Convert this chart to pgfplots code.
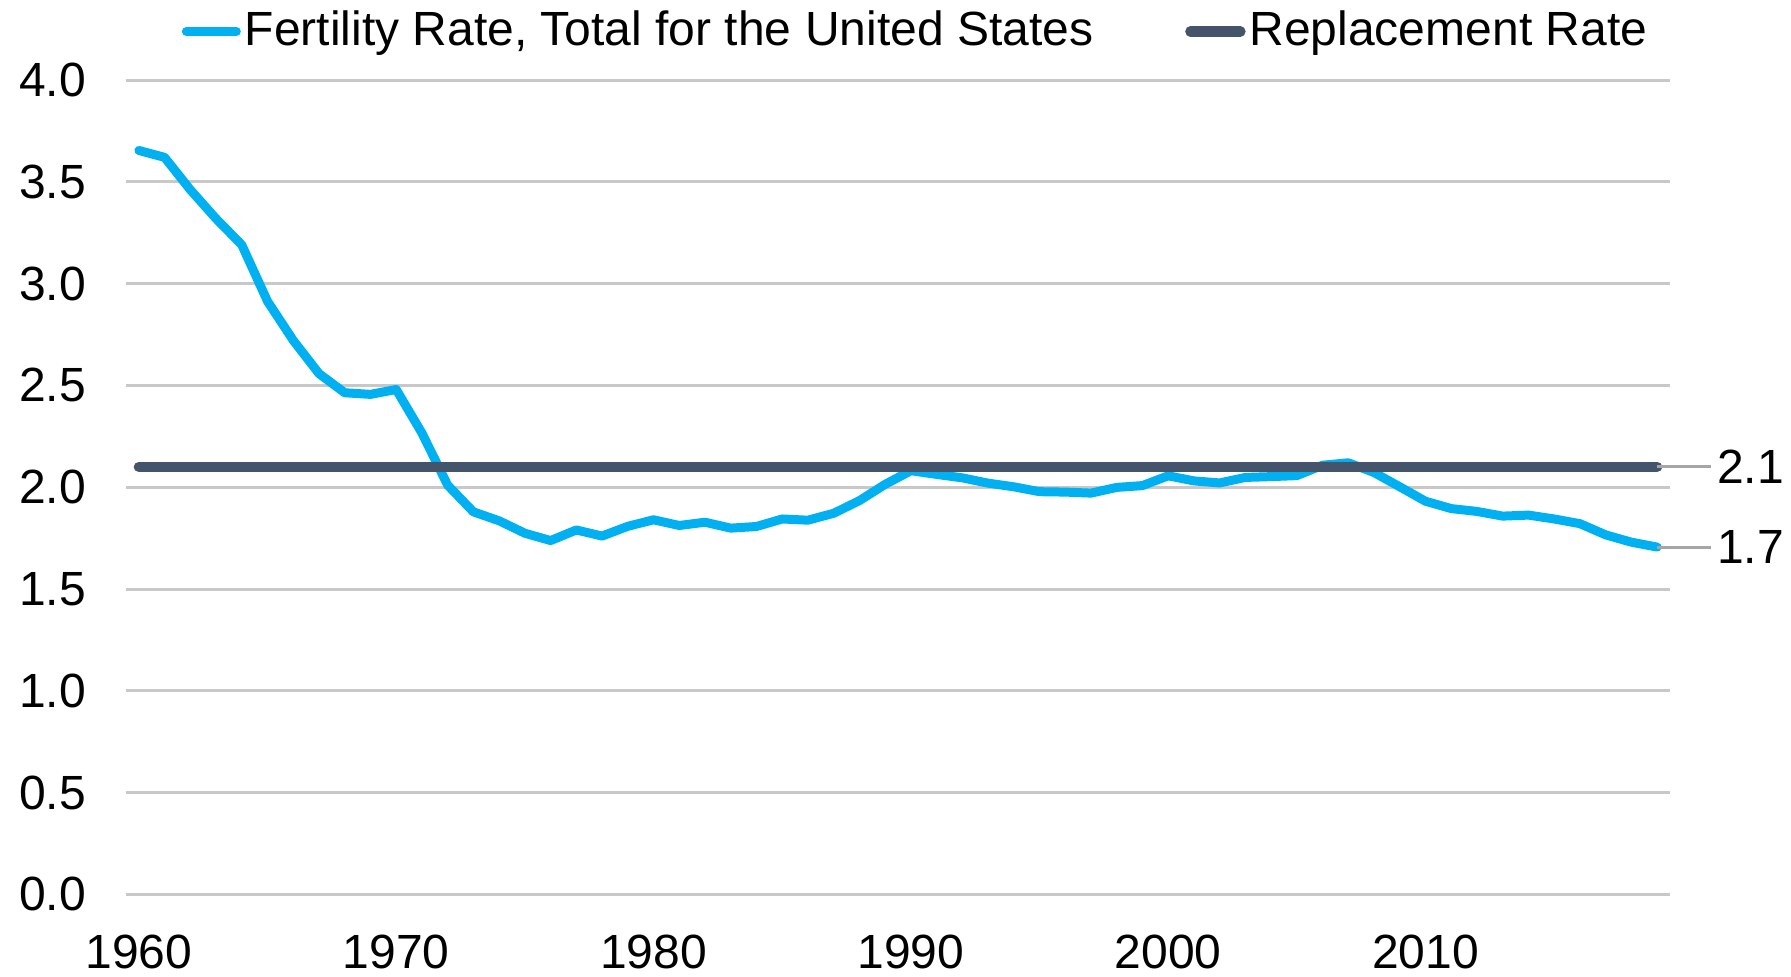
\documentclass[border=0pt]{standalone}
\usepackage{pgfplots}
\pgfplotsset{compat=1.18}
\usepackage{fontspec}
\setmainfont{Liberation Sans}
\definecolor{fblue}{HTML}{00B0F0}
\definecolor{rdark}{HTML}{44546A}
\definecolor{gridgray}{HTML}{C8C8C8}
\definecolor{leader}{HTML}{A6A6A6}
\begin{document}
\begin{tikzpicture}
\path[use as bounding box] (-31.5pt,-20.4pt) rectangle (416.25pt,223.6pt);
\begin{axis}[
  at={(0pt,0pt)}, anchor=south west,
  width=386pt, height=203.6pt, scale only axis,
  xmin=1959.5, xmax=2019.5, ymin=0, ymax=4,
  xtick={1960,1970,1980,1990,2000,2010},
  ytick={0,0.5,1,1.5,2,2.5,3,3.5,4},
  ymajorgrids, major grid style={color=gridgray, line width=0.75pt},
  axis line style={draw=none},
  major tick length=0pt,
  clip=false,
  tick label style={font=\fontsize{12}{14}\selectfont, /pgf/number format/assume math mode=true},
  xticklabel style={/pgf/number format/1000 sep={}, yshift=-6.5pt},
  yticklabel style={/pgf/number format/fixed, /pgf/number format/fixed zerofill, /pgf/number format/precision=1, xshift=-6.5pt},
  legend columns=2,
  legend style={draw=none, fill=none, at={(0.512,1.0596)}, anchor=center,
    font=\fontsize{12}{14}\selectfont, nodes={inner sep=1pt},
    /tikz/every even column/.append style={column sep=22pt}},
  legend image code/.code={\draw[#1, line cap=round] (0pt,0pt) -- (12.5pt,0pt);},
]
\addplot[color=fblue, line width=2.25pt, line join=round, line cap=round] coordinates {
(1960,3.654)(1961,3.620)(1962,3.461)(1963,3.319)(1964,3.190)(1965,2.913)(1966,2.721)(1967,2.558)(1968,2.464)(1969,2.456)
(1970,2.480)(1971,2.266)(1972,2.010)(1973,1.879)(1974,1.835)(1975,1.774)(1976,1.738)(1977,1.790)(1978,1.760)(1979,1.808)
(1980,1.840)(1981,1.812)(1982,1.828)(1983,1.799)(1984,1.807)(1985,1.844)(1986,1.838)(1987,1.872)(1988,1.934)(1989,2.014)
(1990,2.081)(1991,2.063)(1992,2.046)(1993,2.020)(1994,2.002)(1995,1.978)(1996,1.976)(1997,1.971)(1998,1.999)(1999,2.008)
(2000,2.056)(2001,2.031)(2002,2.021)(2003,2.048)(2004,2.052)(2005,2.057)(2006,2.108)(2007,2.120)(2008,2.072)(2009,2.002)
(2010,1.931)(2011,1.895)(2012,1.881)(2013,1.858)(2014,1.863)(2015,1.844)(2016,1.821)(2017,1.766)(2018,1.730)(2019,1.706)
};
\addlegendentry{Fertility Rate, Total for the United States}
\addplot[color=rdark, line width=2.6pt, line cap=round] coordinates {
(1960,2.1)(1970,2.1)(1980,2.1)(1990,2.1)(2000,2.1)(2010,2.1)(2019,2.1)
};
\addlegendentry{Replacement Rate}
\draw[leader, line width=0.75pt] (axis cs:2019,2.1) -- (axis cs:2021.1,2.1);
\draw[leader, line width=0.75pt] (axis cs:2019,1.706) -- (axis cs:2021.1,1.706);
\node[anchor=west, inner sep=0pt, font=\fontsize{12}{14}\selectfont] at (axis cs:2021.3,2.1) {2.1};
\node[anchor=west, inner sep=0pt, font=\fontsize{12}{14}\selectfont] at (axis cs:2021.3,1.706) {1.7};
\end{axis}
\end{tikzpicture}
\end{document}
